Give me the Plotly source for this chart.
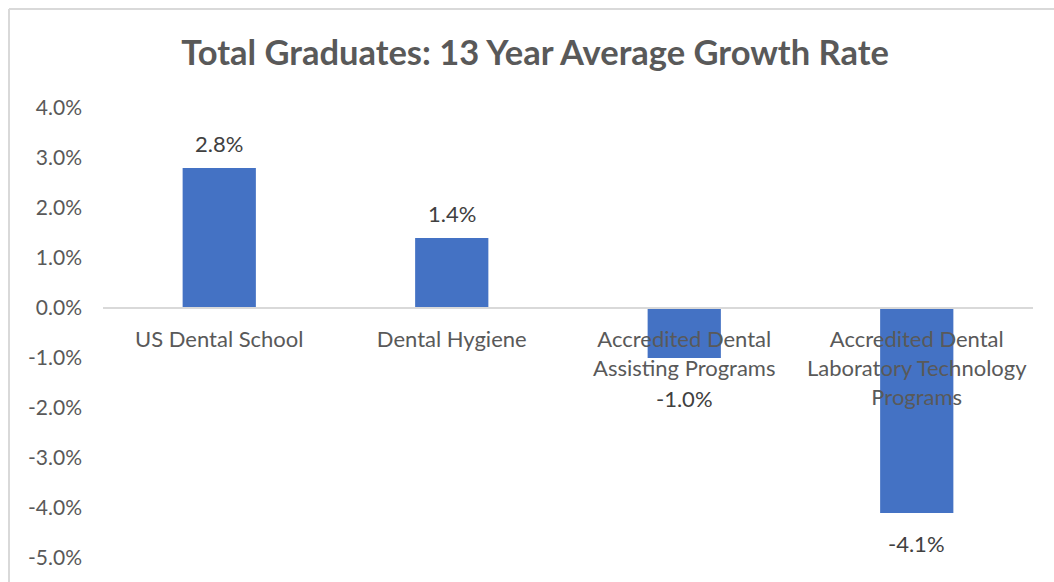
import plotly.graph_objects as go

# Average annual growth in total graduates over 13 years (percent)
categories = [
    "US Dental School",
    "Dental Hygiene",
    "Accredited Dental<br>Assisting Programs",
    "Accredited Dental<br>Laboratory Technology<br>Programs",
]
growth_pct = [2.8, 1.4, -1.0, -4.1]
y_ticks = [4, 3, 2, 1, 0, -1, -2, -3, -4, -5]

# vertical distance (px) from bar end to its value label centre
label_offsets = [25, 25, 40, 30]

BAR_BLUE = "#4472C4"
TEXT_GREY = "#595959"
LABEL_DARK = "#404040"
FRAME_GREY = "#D9D9D9"
FONT = "Lato"

W, H = 1054, 582
ML, MR, MT, MB = 103, 21, 108, 24
plot_w = W - ML - MR
plot_h = H - MT - MB

y_min, y_max = -5, 4

fig = go.Figure()

fig.add_trace(
    go.Bar(
        x=list(range(len(categories))),
        y=growth_pct,
        marker=dict(color=BAR_BLUE, line=dict(width=0)),
        width=0.315,
        hoverinfo="skip",
    )
)

# value labels outside the bar ends
for i, (v, off) in enumerate(zip(growth_pct, label_offsets)):
    fig.add_annotation(
        x=i,
        y=v,
        xref="x",
        yref="y",
        text=f"{v:.1f}%",
        showarrow=False,
        yanchor="middle",
        yshift=off if v >= 0 else -off,
        font=dict(family=FONT, size=22, color=LABEL_DARK),
    )

# chart-area frame (top and left edges)
def px_to_paper_x(px):
    return (px - ML) / plot_w


def px_to_paper_y(py):
    return (H - MB - py) / plot_h


frame = dict(color=FRAME_GREY, width=2)
fig.add_shape(
    type="line", xref="paper", yref="paper",
    x0=px_to_paper_x(9), x1=px_to_paper_x(W + 5),
    y0=px_to_paper_y(9), y1=px_to_paper_y(9),
    line=frame,
)
fig.add_shape(
    type="line", xref="paper", yref="paper",
    x0=px_to_paper_x(9), x1=px_to_paper_x(9),
    y0=px_to_paper_y(9), y1=px_to_paper_y(H + 5),
    line=frame,
)

zero_pos = (0 - y_min) / (y_max - y_min)

fig.update_layout(
    width=W,
    height=H,
    margin=dict(l=ML, r=MR, t=MT, b=MB),
    paper_bgcolor="white",
    plot_bgcolor="white",
    showlegend=False,
    title=dict(
        text="<b>Total Graduates: 13 Year Average Growth Rate</b>",
        x=535 / W,
        xref="container",
        xanchor="center",
        y=1 - 53 / H,
        yref="container",
        yanchor="middle",
        font=dict(family=FONT, size=34.5, color=TEXT_GREY),
    ),
    xaxis=dict(
        tickmode="array",
        tickvals=list(range(len(categories))),
        ticktext=categories,
        range=[-0.5, len(categories) - 0.5],
        anchor="free",
        position=zero_pos,
        showline=True,
        linecolor=FRAME_GREY,
        linewidth=2,
        showgrid=False,
        zeroline=False,
        ticks="",
        ticklabelstandoff=12,
        tickangle=0,
        tickfont=dict(family=FONT, size=22, color=TEXT_GREY),
    ),
    yaxis=dict(
        range=[y_min, y_max],
        tickmode="array",
        tickvals=y_ticks,
        ticktext=[f"{t:.1f}%" for t in y_ticks],
        showgrid=False,
        zeroline=False,
        showline=False,
        ticks="",
        ticklabelstandoff=20,
        tickfont=dict(family=FONT, size=21, color=TEXT_GREY),
    ),
)

fig.write_html("out.html")
